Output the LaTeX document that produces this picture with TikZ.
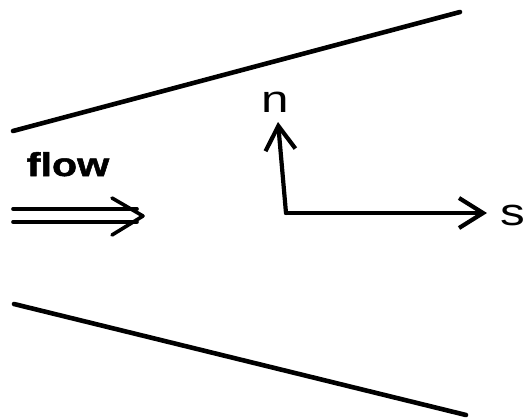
\documentclass[tikz,border=0pt]{standalone}
\usepackage{fontspec}
\setsansfont{Liberation Sans}
\newfontfamily\wideSans[FakeStretch=1.3]{Liberation Sans}
\newfontfamily\wideSansBold[FakeStretch=1.25,FakeBold=1.5]{Liberation Sans Bold}
\usetikzlibrary{arrows.meta}
\tikzset{
  wall/.style={draw=black, line width=4.6pt, line cap=round},
  axis/.style={draw=black, line width=4.2pt, line cap=round, line join=round,
    -{Straight Barb[length=24pt,width=30pt,line width=4.2pt]}},
  flowline/.style={draw=black, line width=3.6pt, line cap=round, line join=round},
  lbl/.style={font=\wideSans\fontsize{38}{40}\selectfont, inner sep=0pt},
  flowlbl/.style={font=\wideSansBold\fontsize{33}{36}\selectfont, inner sep=0pt}
}
\begin{document}
\begin{tikzpicture}[x=1pt,y=-1pt]
  \useasboundingbox (0,0) rectangle (525,418);
  % channel walls
  \draw[wall] (13,131) -- (460,12);
  \draw[wall] (14,304) -- (466,415);
  % flow arrow
  \node[flowlbl, anchor=base] (flow) at (68,176) {flow};
  \coordinate (fa) at (13,209);
  \coordinate (fb) at (13,222);
  \coordinate (ftip) at (143,216);
  \draw[flowline] (fa) -- (137,209);
  \draw[flowline] (fb) -- (137,222);
  \draw[flowline] (112,198) -- (ftip) -- (112,235);
  % local axes
  \coordinate (o) at (286,213);
  \coordinate (ntip) at (278,122);
  \coordinate (stip) at (487,213);
  \draw[axis] (o) -- (ntip);
  \draw[axis] (o) -- (stip);
  \node[lbl, anchor=base] (n) at (275,112) {n};
  \node[lbl, anchor=base] (s) at (513,225) {s};
\end{tikzpicture}
\end{document}
